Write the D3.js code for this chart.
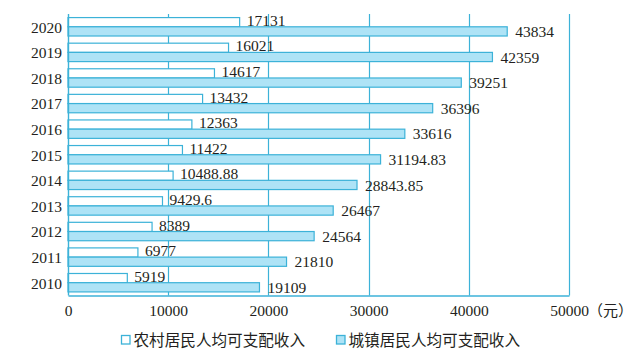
<!DOCTYPE html>
<html>
<head>
<meta charset="utf-8">
<script src="https://cdn.jsdelivr.net/npm/d3@7"></script>
<style>
  html, body { margin: 0; padding: 0; background: #fff; }
  svg { display: block; }
</style>
</head>
<body>
<svg id="chart" width="642" height="355"></svg>
<script>
// ---- data ----
const years = ["2020","2019","2018","2017","2016","2015","2014","2013","2012","2011","2010"];
const rural = [17131, 16021, 14617, 13432, 12363, 11422, 10488.88, 9429.6, 8389, 6977, 5919];
const urban = [43834, 42359, 39251, 36396, 33616, 31194.83, 28843.85, 26467, 24564, 21810, 19109];
const ruralLabels = ["17131","16021","14617","13432","12363","11422","10488.88","9429.6","8389","6977","5919"];
const urbanLabels = ["43834","42359","39251","36396","33616","31194.83","28843.85","26467","24564","21810","19109"];
const xTicks = [0, 10000, 20000, 30000, 40000, 50000];
const seriesNames = ["农村居民人均可支配收入", "城镇居民人均可支配收入"];
const unitLabel = "（元）";

// ---- styles ----
const lineColor = "#3cb2d8";
const urbanFill = "#aee3f6";
const ruralFill = "#ffffff";
const textColor = "#231f20";
const serif = "'Liberation Serif', 'DejaVu Serif', serif";
const cjk = "'Noto Sans CJK SC', sans-serif";
const numSize = 15.5;

const svg = d3.select("#chart");
const mLeft = 68, mRight = 569, mTop = 14, mBottom = 295.5;

const x = d3.scaleLinear().domain([0, 50000]).range([mLeft, mRight]);
const y = d3.scaleBand().domain(years).range([mTop, mBottom]).paddingInner(0.28).paddingOuter(0.14);
const sub = d3.scaleBand().domain(["rural", "urban"]).range([0, y.bandwidth()]);

// gridlines
svg.append("g").selectAll("line").data(xTicks.slice(1)).join("line")
  .attr("x1", d => Math.round(x(d)) + 0.5).attr("x2", d => Math.round(x(d)) + 0.5)
  .attr("y1", mTop).attr("y2", mBottom)
  .attr("stroke", lineColor).attr("stroke-width", 1.2);

// bars
const rows = years.map((yr, i) => ({ yr, r: rural[i], u: urban[i], rl: ruralLabels[i], ul: urbanLabels[i] }));
const g = svg.append("g");
g.selectAll("rect.rural").data(rows).join("rect").attr("class", "rural")
  .attr("x", x(0)).attr("y", d => y(d.yr) + sub("rural"))
  .attr("width", d => x(d.r) - x(0)).attr("height", sub.bandwidth())
  .attr("fill", ruralFill).attr("stroke", lineColor).attr("stroke-width", 1.2);
g.selectAll("rect.urban").data(rows).join("rect").attr("class", "urban")
  .attr("x", x(0)).attr("y", d => y(d.yr) + sub("urban"))
  .attr("width", d => x(d.u) - x(0)).attr("height", sub.bandwidth())
  .attr("fill", urbanFill).attr("stroke", lineColor).attr("stroke-width", 1.2);

// value labels
g.selectAll("text.rl").data(rows).join("text").attr("class", "rl")
  .attr("x", d => x(d.r) + 7).attr("y", d => y(d.yr) + sub("rural") + sub.bandwidth() - 1)
  .attr("font-family", serif).attr("font-size", numSize).attr("fill", textColor)
  .text(d => d.rl);
g.selectAll("text.ul").data(rows).join("text").attr("class", "ul")
  .attr("x", d => x(d.u) + 8).attr("y", d => y(d.yr) + sub("urban") + sub.bandwidth() + 1)
  .attr("font-family", serif).attr("font-size", numSize).attr("fill", textColor)
  .text(d => d.ul);

// y axis
const yAxis = svg.append("g").attr("transform", `translate(${mLeft},0)`)
  .call(d3.axisLeft(y).tickSize(0).tickPadding(6));
yAxis.select(".domain").remove();
yAxis.append("line").attr("x1", 0.5).attr("x2", 0.5).attr("y1", mTop).attr("y2", mBottom)
  .attr("stroke", lineColor).attr("stroke-width", 1.4);
yAxis.selectAll("text").attr("font-family", serif).attr("font-size", numSize).attr("fill", textColor)
  .attr("dy", "0.38em");

// x axis
const xAxis = svg.append("g").attr("transform", `translate(0,${mBottom})`)
  .call(d3.axisBottom(x).tickValues(xTicks).tickFormat(d3.format("d")).tickSize(0).tickPadding(9));
xAxis.select(".domain").attr("stroke", lineColor).attr("stroke-width", 1.4);
xAxis.selectAll("text").attr("font-family", serif).attr("font-size", numSize).attr("fill", textColor);

svg.append("text").attr("x", x(50000) + 19).attr("y", mBottom + 20)
  .attr("font-family", cjk).attr("font-size", 15).attr("fill", textColor).text(unitLabel);

// legend
const legend = [
  { name: seriesNames[0], fill: ruralFill, sx: 121 },
  { name: seriesNames[1], fill: urbanFill, sx: 336 }
];
const lg = svg.append("g").selectAll("g").data(legend).join("g");
lg.append("rect").attr("x", d => d.sx + 0.5).attr("y", 335.5).attr("width", 8.5).attr("height", 8.5)
  .attr("fill", d => d.fill).attr("stroke", lineColor).attr("stroke-width", 1.3);
lg.append("text").attr("x", d => d.sx + 12.5).attr("y", 345.5)
  .attr("font-family", cjk).attr("font-size", 15.6).attr("fill", textColor)
  .text(d => d.name);
</script>
</body>
</html>
